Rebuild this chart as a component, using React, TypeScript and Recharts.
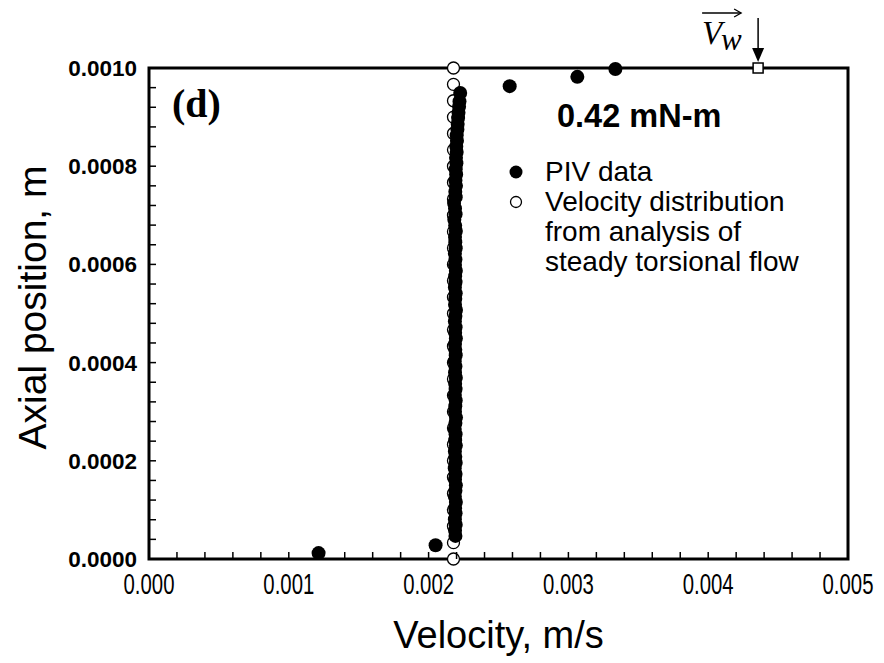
import { ScatterChart, Scatter, XAxis, YAxis, ReferenceArea, Legend } from 'recharts'

// PIV measurements, velocity (m/s) and axial position (m)
const pivVelocity = [
  2.192e-3, 2.189e-3, 2.194e-3, 2.188e-3, 2.193e-3, 2.19e-3, 2.195e-3, 2.188e-3, 2.192e-3, 2.195e-3,
  2.189e-3, 2.193e-3, 2.187e-3, 2.194e-3, 2.191e-3, 2.188e-3, 2.195e-3, 2.19e-3, 2.193e-3, 2.187e-3,
  2.192e-3, 2.196e-3, 2.189e-3, 2.191e-3, 2.194e-3, 2.188e-3, 2.193e-3, 2.19e-3, 2.195e-3, 2.189e-3,
  2.192e-3, 2.187e-3, 2.194e-3, 2.191e-3, 2.189e-3, 2.195e-3, 2.19e-3, 2.193e-3, 2.188e-3, 2.192e-3,
  2.196e-3, 2.189e-3, 2.191e-3, 2.194e-3, 2.188e-3, 2.193e-3, 2.19e-3, 2.195e-3, 2.189e-3, 2.192e-3,
  2.188e-3, 2.194e-3, 2.191e-3, 2.189e-3, 2.195e-3, 2.19e-3, 2.184e-3, 2.193e-3, 2.189e-3, 2.182e-3,
  2.194e-3, 2.191e-3, 2.196e-3, 2.192e-3, 2.197e-3, 2.194e-3, 2.199e-3, 2.196e-3, 2.201e-3, 2.198e-3,
  2.203e-3, 2.201e-3, 2.206e-3, 2.208e-3, 2.211e-3, 2.214e-3, 2.218e-3, 2.221e-3, 2.226e-3,
  1.213e-3, 2.05e-3, 2.58e-3, 3.064e-3, 3.336e-3,
]
const pivPosition = [
  0.47e-4, 0.58e-4, 0.7e-4, 0.81e-4, 0.93e-4, 1.04e-4, 1.16e-4, 1.27e-4, 1.39e-4, 1.5e-4,
  1.62e-4, 1.73e-4, 1.85e-4, 1.96e-4, 2.08e-4, 2.19e-4, 2.31e-4, 2.42e-4, 2.54e-4, 2.65e-4,
  2.77e-4, 2.88e-4, 3.0e-4, 3.11e-4, 3.23e-4, 3.34e-4, 3.46e-4, 3.57e-4, 3.69e-4, 3.8e-4,
  3.92e-4, 4.03e-4, 4.15e-4, 4.26e-4, 4.38e-4, 4.49e-4, 4.61e-4, 4.72e-4, 4.84e-4, 4.95e-4,
  5.07e-4, 5.18e-4, 5.3e-4, 5.41e-4, 5.53e-4, 5.64e-4, 5.76e-4, 5.87e-4, 5.99e-4, 6.1e-4,
  6.22e-4, 6.33e-4, 6.45e-4, 6.56e-4, 6.68e-4, 6.79e-4, 6.91e-4, 7.02e-4, 7.14e-4, 7.25e-4,
  7.37e-4, 7.48e-4, 7.6e-4, 7.71e-4, 7.83e-4, 7.94e-4, 8.06e-4, 8.17e-4, 8.29e-4, 8.4e-4,
  8.52e-4, 8.63e-4, 8.75e-4, 8.86e-4, 8.98e-4, 9.09e-4, 9.21e-4, 9.32e-4, 9.49e-4,
  0.12e-4, 0.28e-4, 9.63e-4, 9.82e-4, 9.98e-4,
]

// steady torsional flow analysis: constant velocity across the gap
const analysisVelocity = 2.178e-3
const analysisPosition = [
  0, 0.333e-4, 0.667e-4, 1.0e-4, 1.333e-4, 1.667e-4, 2.0e-4, 2.333e-4, 2.667e-4, 3.0e-4,
  3.333e-4, 3.667e-4, 4.0e-4, 4.333e-4, 4.667e-4, 5.0e-4, 5.333e-4, 5.667e-4, 6.0e-4, 6.333e-4,
  6.667e-4, 7.0e-4, 7.333e-4, 7.667e-4, 8.0e-4, 8.333e-4, 8.667e-4, 9.0e-4, 9.333e-4, 9.667e-4,
  1.0e-3,
]

// wall velocity V_w
const wallPoint = [{ x: 4.357e-3, y: 1.0e-3 }]

const xMajor = [0, 0.001, 0.002, 0.003, 0.004, 0.005]
const xLabels = ['0.000', '0.001', '0.002', '0.003', '0.004', '0.005']
const xMinor = [
  0.0002, 0.0004, 0.0006, 0.0008, 0.0012, 0.0014, 0.0016, 0.0018, 0.0022, 0.0024,
  0.0026, 0.0028, 0.0032, 0.0034, 0.0036, 0.0038, 0.0042, 0.0044, 0.0046, 0.0048,
]
const yMajor = [0, 0.0002, 0.0004, 0.0006, 0.0008, 0.001]
const yLabels = ['0.0000', '0.0002', '0.0004', '0.0006', '0.0008', '0.0010']
const yMinor = [
  0.00004, 0.00008, 0.00012, 0.00016, 0.00024, 0.00028, 0.00032, 0.00036, 0.00044, 0.00048,
  0.00052, 0.00056, 0.00064, 0.00068, 0.00072, 0.00076, 0.00084, 0.00088, 0.00092, 0.00096,
]

const pivData = pivVelocity.map((v, i) => ({ x: v, y: pivPosition[i] }))
const analysisData = analysisPosition.map((z) => ({ x: analysisVelocity, y: z }))
const xTicks = [...xMajor, ...xMinor].sort((a, b) => a - b)
const yTicks = [...yMajor, ...yMinor].sort((a, b) => a - b)

const sansFont = '"Liberation Sans", Arial, sans-serif'
const serifFont = '"Liberation Serif", "Times New Roman", serif'

const findMajor = (list: number[], v: number) => list.findIndex((m) => Math.abs(m - v) < 1e-9)

function XTick(props: any) {
  const { x, y, payload } = props
  const i = findMajor(xMajor, payload.value)
  return (
    <g>
      <line x1={x} y1={y} x2={x} y2={y - 7} stroke="#000" strokeWidth={1.5} />
      {i >= 0 && (
        <text
          x={0}
          y={0}
          transform={`translate(${x} ${y + 35}) scale(0.69 1)`}
          textAnchor="middle"
          fontFamily={sansFont}
          fontSize={29.5}
          fill="#000"
        >
          {xLabels[i]}
        </text>
      )}
    </g>
  )
}

function YTick(props: any) {
  const { x, y, payload } = props
  const i = findMajor(yMajor, payload.value)
  return (
    <g>
      <line x1={x} y1={y} x2={x + 7} y2={y} stroke="#000" strokeWidth={1.5} />
      {i >= 0 && (
        <text x={x - 12} y={y + 8} textAnchor="end" fontFamily={sansFont} fontWeight="bold" fontSize={22.5} fill="#000">
          {yLabels[i]}
        </text>
      )}
    </g>
  )
}

const filledDot = (p: any) => <circle cx={p.cx} cy={p.cy} r={7} fill="#000" />
const openDot = (p: any) => <circle cx={p.cx} cy={p.cy} r={6} fill="#fff" stroke="#000" strokeWidth={1.3} />

function WallMarker(p: any) {
  const { cx, cy } = p
  return (
    <g>
      <line x1={cx} y1={cy - 50} x2={cx} y2={cy - 19} stroke="#000" strokeWidth={1.5} />
      <polygon points={`${cx - 6},${cy - 20} ${cx + 6},${cy - 20} ${cx},${cy - 6}`} fill="#000" />
      <rect x={cx - 5} y={cy - 5} width={10} height={10} fill="#fff" stroke="#000" strokeWidth={1.5} />
      <line x1={cx - 56} y1={cy - 55} x2={cx - 17} y2={cy - 55} stroke="#000" strokeWidth={1.3} />
      <polyline
        points={`${cx - 24},${cy - 59} ${cx - 17},${cy - 55} ${cx - 24},${cy - 51}`}
        fill="none"
        stroke="#000"
        strokeWidth={1.3}
      />
      <text x={cx - 56} y={cy - 24} fontFamily={serifFont} fontStyle="italic" fontSize={33} fill="#000">
        V
      </text>
      <text x={cx - 37} y={cy - 18} fontFamily={serifFont} fontStyle="italic" fontSize={31} fill="#000">
        w
      </text>
    </g>
  )
}

function Annotations() {
  const text = { position: 'absolute' as const, whiteSpace: 'nowrap' as const, lineHeight: 1, color: '#000' }
  const row = { ...text, left: 545, fontFamily: sansFont, fontSize: 28 }
  return (
    <div style={{ position: 'relative', width: 884, height: 663 }}>
      <div style={{ ...text, left: 172, top: 84, fontFamily: serifFont, fontWeight: 'bold', fontSize: 40 }}>(d)</div>
      <div style={{ ...text, left: 557, top: 100, fontFamily: sansFont, fontWeight: 'bold', fontSize: 32.5 }}>0.42 mN-m</div>
      <svg style={{ position: 'absolute', left: 0, top: 0 }} width={884} height={663}>
        <circle cx={516} cy={172} r={6.5} fill="#000" />
        <circle cx={516} cy={202} r={5.5} fill="#fff" stroke="#000" strokeWidth={1.3} />
      </svg>
      <div style={{ ...row, top: 158 }}>PIV data</div>
      <div style={{ ...row, top: 188 }}>Velocity distribution</div>
      <div style={{ ...row, top: 218 }}>from analysis of</div>
      <div style={{ ...row, top: 248 }}>steady torsional flow</div>
    </div>
  )
}

export default function App() {
  return (
    <div style={{ position: 'absolute', left: 0, top: 0, width: 884, height: 663, background: '#fff' }}>
      <ScatterChart width={884} height={663} margin={{ top: 68, right: 36, bottom: 8, left: 8 }}>
        <XAxis
          type="number"
          dataKey="x"
          domain={[0, 0.005]}
          ticks={xTicks}
          interval={0}
          tick={<XTick />}
          tickLine={false}
          axisLine={false}
          tickSize={0}
          tickMargin={0}
          height={96}
          label={{
            content: (p: any) => (
              <text
                x={p.viewBox.x + p.viewBox.width / 2}
                y={p.viewBox.y + 89}
                textAnchor="middle"
                fontFamily={sansFont}
                fontSize={38}
                fill="#000"
              >
                Velocity, m/s
              </text>
            ),
          }}
        />
        <YAxis
          type="number"
          dataKey="y"
          domain={[0, 0.001]}
          ticks={yTicks}
          interval={0}
          tick={<YTick />}
          tickLine={false}
          axisLine={false}
          tickSize={0}
          tickMargin={0}
          width={141}
          label={{
            content: (p: any) => {
              const cx = p.viewBox.x + 24
              const cy = p.viewBox.y + p.viewBox.height / 2 - 6
              return (
                <text
                  x={cx}
                  y={cy}
                  transform={`rotate(-90 ${cx} ${cy})`}
                  textAnchor="middle"
                  dominantBaseline="central"
                  fontFamily={sansFont}
                  fontSize={39}
                  fill="#000"
                >
                  Axial position, m
                </text>
              )
            },
          }}
        />
        <ReferenceArea x1={0} x2={0.005} y1={0} y2={0.001} fill="none" stroke="#000" strokeWidth={3} ifOverflow="visible" />
        <Scatter name="analysis" data={analysisData} shape={openDot} isAnimationActive={false} />
        <Scatter name="PIV" data={pivData} shape={filledDot} isAnimationActive={false} />
        <Scatter name="wall" data={wallPoint} shape={<WallMarker />} isAnimationActive={false} />
        <Legend
          layout="vertical"
          align="center"
          verticalAlign="middle"
          wrapperStyle={{ left: 0, top: 0, width: 884, height: 663, pointerEvents: 'none' }}
          content={() => <Annotations />}
        />
      </ScatterChart>
    </div>
  )
}
